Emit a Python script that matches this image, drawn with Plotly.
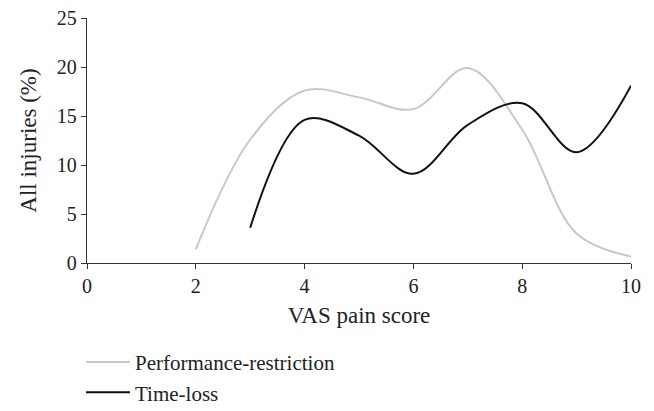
import plotly.graph_objects as go

vas_perf = [2, 3, 4, 5, 6, 7, 8, 9, 10]
perf_restriction = [1.4, 12.6, 17.6, 16.9, 15.7, 19.9, 13.6, 3.0, 0.65]
vas_time = [3, 4, 5, 6, 7, 8, 9, 10]
time_loss = [3.6, 14.6, 13.0, 9.1, 14.1, 16.3, 11.3, 18.1]

FONT = "Liberation Serif"

fig = go.Figure()
fig.add_trace(go.Scatter(x=vas_perf, y=perf_restriction, mode="lines",
                         name="Performance-restriction", legendgroup="a",
                         line=dict(color="#c8c8c8", width=2, shape="spline", smoothing=1)))
fig.add_trace(go.Scatter(x=vas_time, y=time_loss, mode="lines",
                         name="Time-loss", legendgroup="b",
                         line=dict(color="#111111", width=2, shape="spline", smoothing=1)))

axis_common = dict(showgrid=False, zeroline=False, showline=True, linecolor="#333333",
                   linewidth=1.3, ticks="outside", ticklen=5, tickcolor="#333333",
                   tickwidth=1.3, automargin=False, ticklabeloverflow="allow",
                   tickfont=dict(family=FONT, size=20, color="#222222"))

# page body has an 8px default margin, so the figure is sized to fit inside
fig.update_layout(
    width=646, height=395,
    margin=dict(l=79, r=23, t=10, b=140, autoexpand=False),
    paper_bgcolor="white", plot_bgcolor="white",
    xaxis=dict(range=[0, 10], dtick=2, tick0=0,
               title=dict(text="VAS pain score", font=dict(family=FONT, size=23, color="#222222"), standoff=10),
               **axis_common),
    yaxis=dict(range=[0, 25], dtick=5, tick0=0,
               title=dict(text="All injuries (%)", font=dict(family=FONT, size=23, color="#222222"), standoff=13),
               **axis_common),
    legend=dict(orientation="v", x=-0.011, xanchor="left", y=-0.322, yanchor="top",
                traceorder="grouped", tracegroupgap=0, itemwidth=44,
                font=dict(family=FONT, size=21, color="#222222"),
                bgcolor="rgba(0,0,0,0)"),
    showlegend=True,
)

fig.write_html("out.html")
